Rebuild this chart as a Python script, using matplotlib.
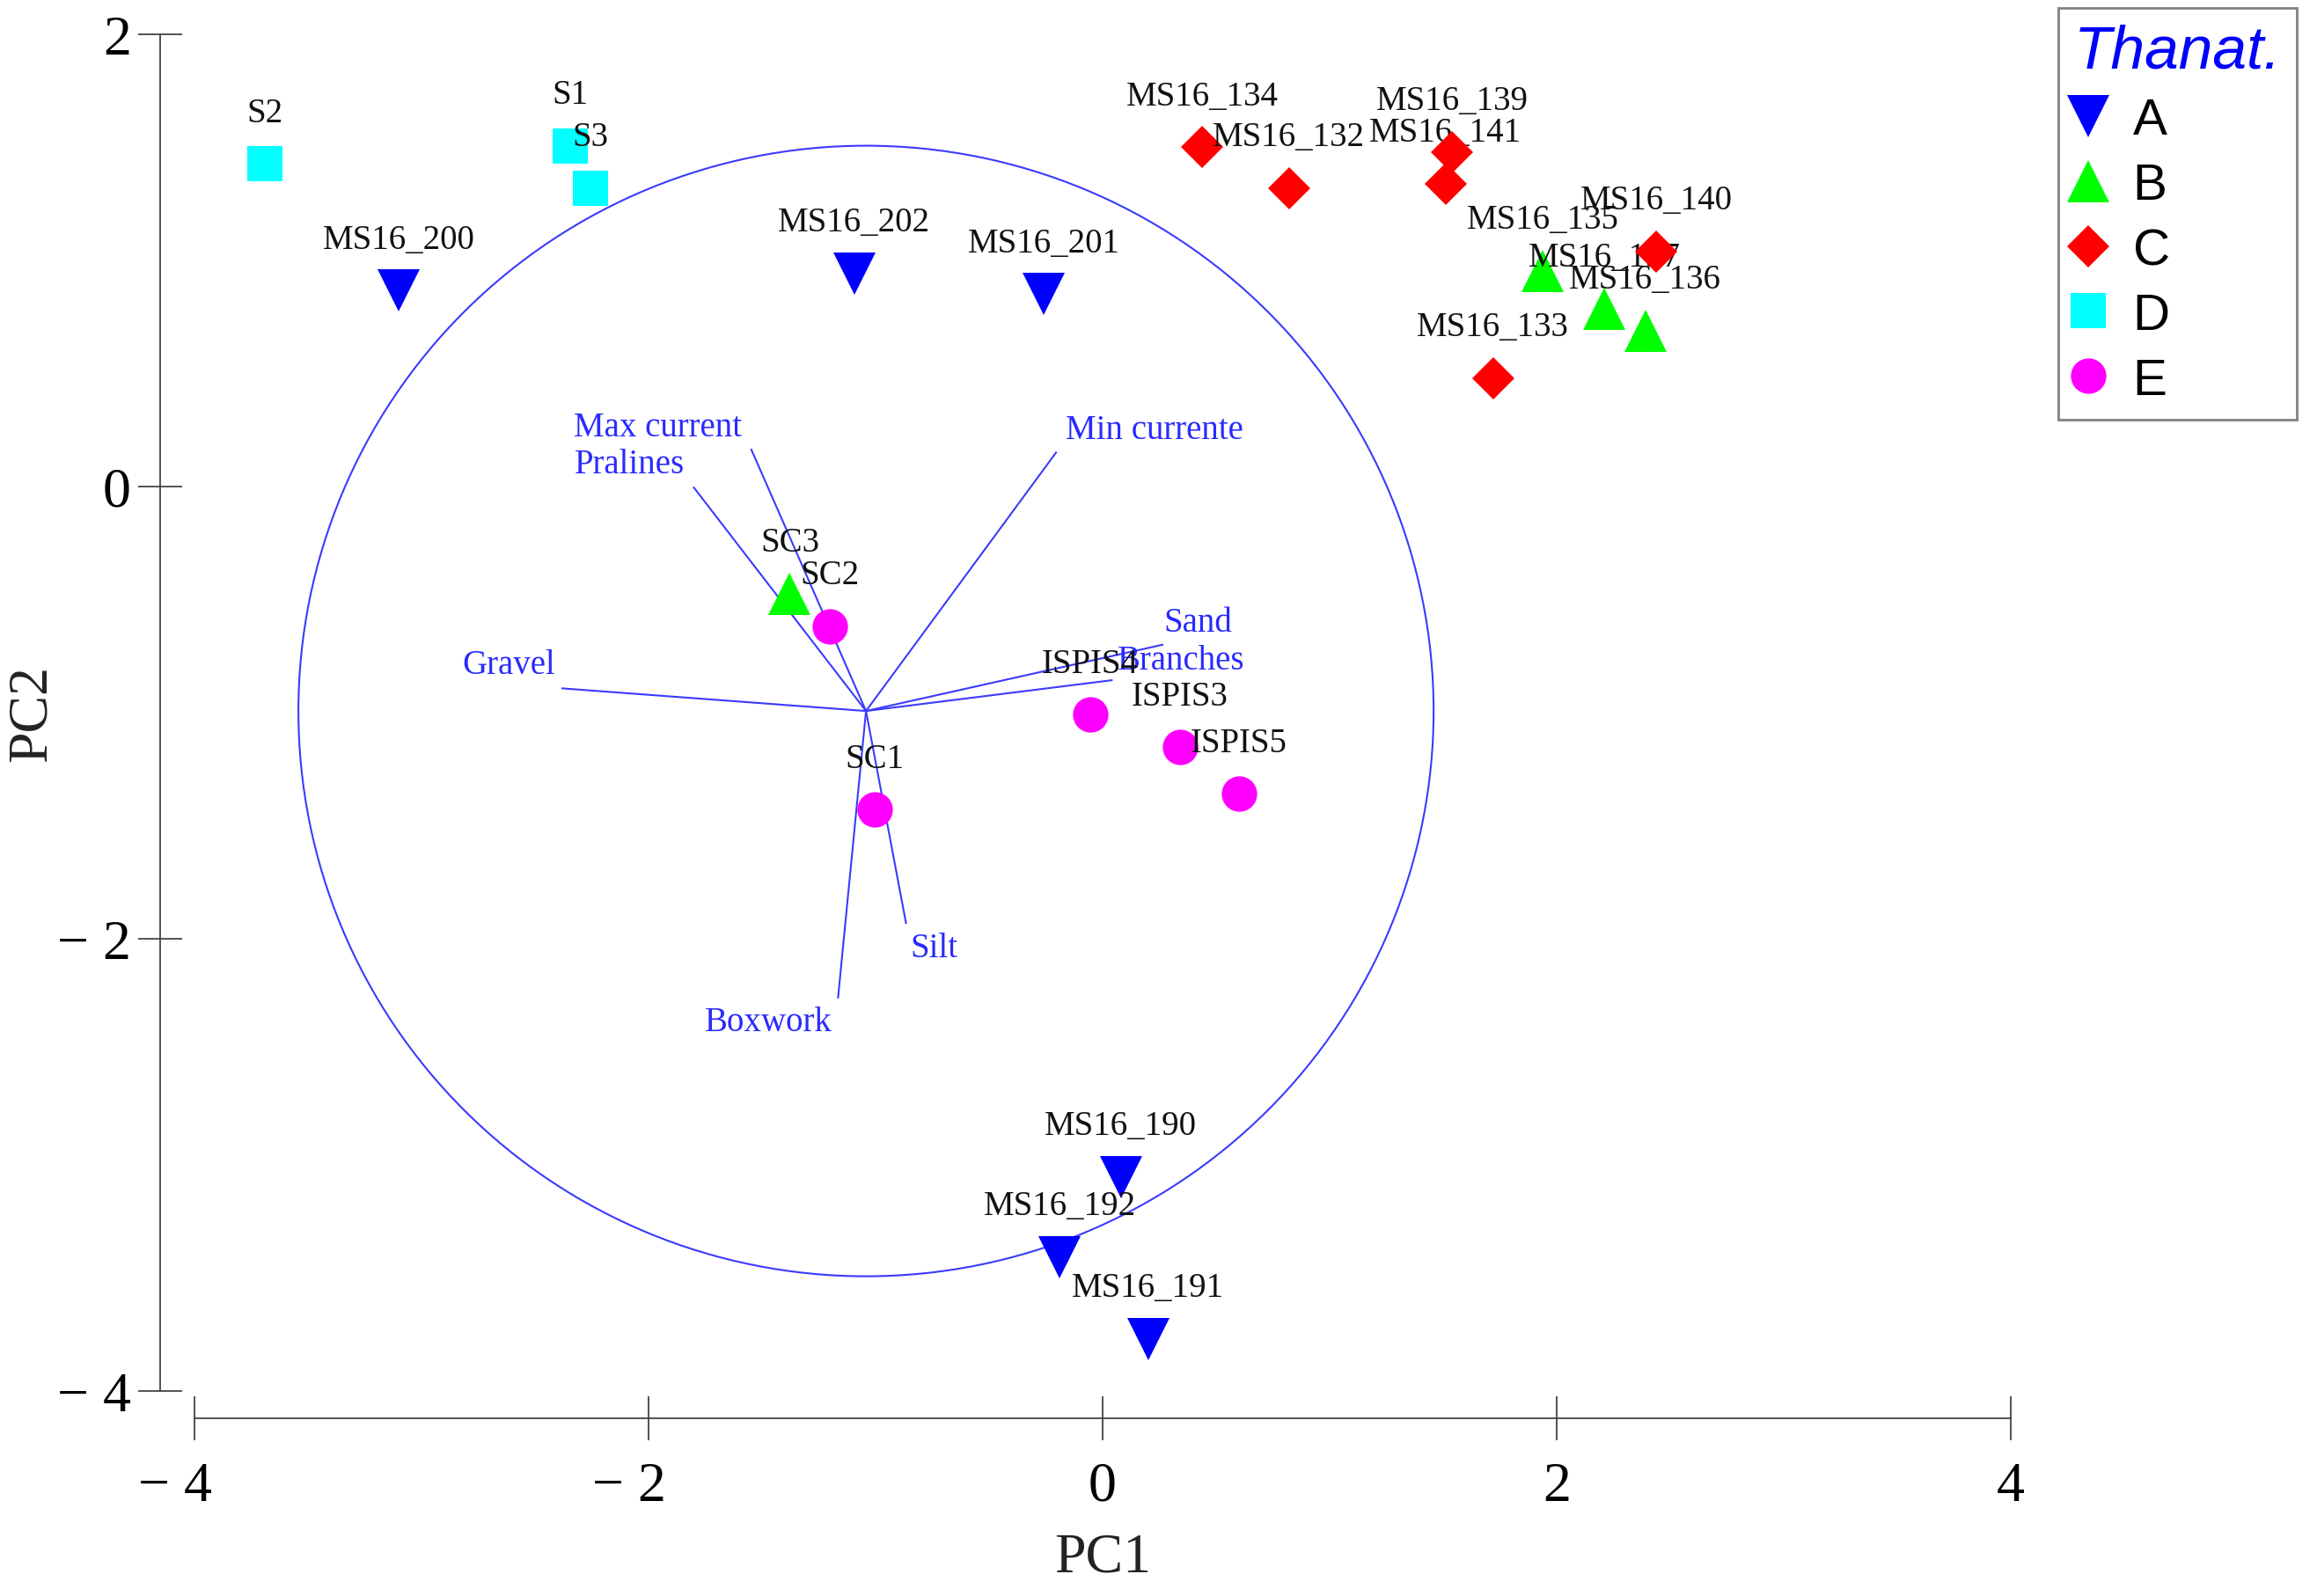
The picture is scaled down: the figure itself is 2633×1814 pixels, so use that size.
import matplotlib
matplotlib.use("Agg")
import matplotlib.pyplot as plt
from matplotlib.patches import Circle
from matplotlib.lines import Line2D
from matplotlib.transforms import ScaledTranslation

# sample scores (PC1, PC2) per group
groups = ['A', 'B', 'C', 'D', 'E']
colors = ['#0000FF', '#00FF00', '#FF0000', '#00FFFF', '#FF00FF']
markers = ['v', '^', 'D', 's', 'o']
msizes = [34, 34, 24, 29, 29]

names_a = ['MS16_200', 'MS16_202', 'MS16_201', 'MS16_190', 'MS16_192', 'MS16_191']
pc1_a = [-3.10, -1.094, -0.26, 0.08, -0.19, 0.20]
pc2_a = [0.866, 0.94, 0.85, -3.055, -3.41, -3.77]

names_b = ['SC3', 'MS16_135', 'MS16_137', 'MS16_136']
pc1_b = [-1.378, 1.94, 2.21, 2.39]
pc2_b = [-0.475, 0.954, 0.786, 0.69]

names_c = ['MS16_134', 'MS16_132', 'MS16_141', 'MS16_139', 'MS16_140', 'MS16_133']
pc1_c = [0.44, 0.82, 1.51, 1.54, 2.44, 1.72]
pc2_c = [1.50, 1.32, 1.34, 1.48, 1.04, 0.477]

names_d = ['S2', 'S1', 'S3']
pc1_d = [-3.69, -2.344, -2.257]
pc2_d = [1.426, 1.505, 1.318]

names_e = ['SC2', 'ISPIS4', 'ISPIS3', 'ISPIS5', 'SC1']
pc1_e = [-1.20, -0.055, 0.34, 0.60, -1.005]
pc2_e = [-0.618, -1.01, -1.154, -1.36, -1.43]

# environmental variables (biplot)
origin = (-1.042, -0.993)
circle_r = 2.5
var_names = ['Max current', 'Pralines', 'Min currente', 'Gravel', 'Sand', 'Branches', 'Silt', 'Boxwork']
var_x = [-1.547, -1.80, -0.205, -2.38, 0.264, 0.04, -0.866, -1.165]
var_y = [0.163, -0.005, 0.15, -0.893, -0.70, -0.857, -1.93, -2.26]
var_lab_x = [-1.96, -2.083, 0.229, -2.617, 0.419, 0.345, -0.744, -1.471]
var_lab_y = [0.262, 0.097, 0.249, -0.79, -0.603, -0.767, -2.04, -2.37]

xticks = [-4, -2, 0, 2, 4]
xtick_labels = ['\u2212 4', '\u2212 2', '0', '2', '4']
yticks = [-4, -2, 0, 2]
ytick_labels = ['\u2212 4', '\u2212 2', '0', '2']

W, H = 2633, 1815
fig = plt.figure(figsize=(W / 100, H / 100), dpi=100)
ax = fig.add_axes([182 / W, 1 - 1613 / H, 8.401 * 258 / W, 6.221 * 257 / H])
ax.set_xlim(-4.151, 4.25)
ax.set_ylim(-4.121, 2.1)

serif = 'Liberation Serif'
line_col = '#3a3aff'

ax.add_patch(Circle(origin, circle_r, fill=False, edgecolor=line_col, linewidth=1.5, zorder=1))
for i in range(len(var_names)):
    ax.plot([origin[0], var_x[i]], [origin[1], var_y[i]], color=line_col, linewidth=1.5, zorder=1)
    ax.text(var_lab_x[i], var_lab_y[i], var_names[i], color='#2a2aff', fontsize=28,
            family=serif, ha='center', va='center', zorder=1.5)

all_names = [names_a, names_b, names_c, names_d, names_e]
all_x = [pc1_a, pc1_b, pc1_c, pc1_d, pc1_e]
all_y = [pc2_a, pc2_b, pc2_c, pc2_d, pc2_e]

z = 2
for g in range(len(groups)):
    for n, x, y in zip(all_names[g], all_x[g], all_y[g]):
        ax.plot(x, y, marker=markers[g], color=colors[g], markersize=msizes[g],
                markeredgewidth=0, linestyle='none', zorder=z)
        ax.annotate(n, (x, y), xytext=(0, 42), textcoords='offset points',
                    ha='center', va='center', fontsize=28, family=serif,
                    color='#111111', zorder=z + 0.005)
        z += 0.01

for side in ['top', 'right']:
    ax.spines[side].set_visible(False)
ax.spines['left'].set_bounds(-4, 2)
ax.spines['bottom'].set_bounds(-4, 4)
for side in ['left', 'bottom']:
    ax.spines[side].set_color('#444444')
    ax.spines[side].set_linewidth(1.3)

ax.set_xticks(xticks, labels=xtick_labels)
ax.set_yticks(yticks, labels=ytick_labels)
ax.tick_params(axis='both', direction='inout', length=36, width=1.3, color='#444444',
               labelsize=46)
ax.tick_params(axis='x', pad=17)
ax.tick_params(axis='y', pad=6)
for lab in ax.get_xticklabels() + ax.get_yticklabels():
    lab.set_family(serif)
# negative x labels: digit sits under the tick, minus hangs to the left
shift = ScaledTranslation(-16 / 72, 0, fig.dpi_scale_trans)
for tick, v in zip(ax.xaxis.get_major_ticks(), xticks):
    if v < 0:
        tick.label1.set_transform(tick.label1.get_transform() + shift)

ax.set_xlabel('PC1', fontsize=46, family=serif, color='#222222', va='center')
ax.xaxis.set_label_coords(0.494, -0.0994)
ax.set_ylabel('PC2', fontsize=46, family=serif, color='#222222', va='center', ha='center')
ax.yaxis.set_label_coords(-0.0669, 0.5017)

handles = [Line2D([], [], marker=markers[g], color=colors[g], markersize=msizes[g],
                  markeredgewidth=0, linestyle='none') for g in range(len(groups))]
leg = fig.legend(handles, groups, loc='upper left', bbox_to_anchor=(2339 / W, 1 - 10 / H),
                 prop={'family': 'Liberation Sans', 'size': 42}, title='Thanat.',
                 title_fontproperties={'family': 'Liberation Sans', 'style': 'italic', 'size': 50},
                 alignment='left', fancybox=False, edgecolor='#808080', framealpha=1,
                 borderpad=0.3, handlelength=0.55, handletextpad=0.6, labelspacing=0.34,
                 borderaxespad=0)
leg.get_title().set_color('#0000FF')
leg.get_frame().set_linewidth(2)

fig.savefig('out.png', dpi=100)
